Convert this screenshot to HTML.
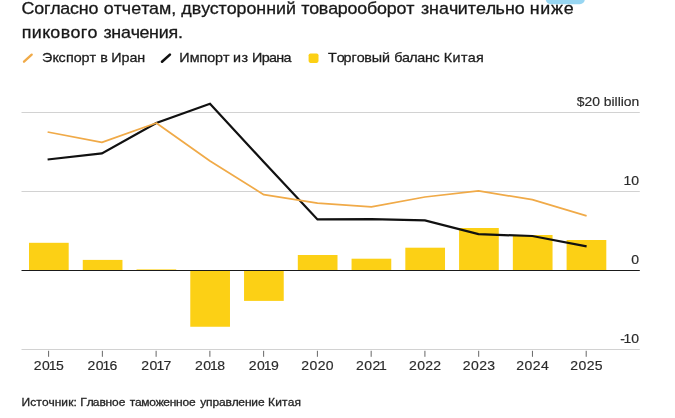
<!DOCTYPE html>
<html lang="ru">
<head>
<meta charset="utf-8">
<title>Chart</title>
<style>
html,body{margin:0;padding:0;background:#fff;}
body{width:675px;height:418px;position:relative;overflow:hidden;}
svg{position:absolute;left:0;top:0;display:block;}
svg text{font-family:"Liberation Sans",Arial,sans-serif;}
</style>
</head>
<body>
<svg width="675" height="418" viewBox="0 0 675 418">
  <rect x="545.8" y="-12" width="39" height="16.3" rx="5" fill="#98d6f2"/>
  <!-- title -->
  <text transform="scale(1.05,1)" x="20.54 32.65 41.93 47.97 57.35 66.63 74.97 84.19 93.64 98.71 108.33 115.9 124.93 134.55 141.93 151.36 163.21 167.94 172.67 182.6 191.65 199.79 208.11 215.92 225.19 234.66 244.13 253.54 262.94 272.45 281.95 286.97 294.59 303.69 312.56 321.65 330.94 340.23 349.52 359.09 368.38 377.67 386.96 394.37 400.88 408.69 418.09 427.56 436.05 445.56 453.36 462.64 472.01 480.88 490.28 499.74 504.46 514.59 524.83 536.95" y="13.9" font-size="17" fill="#181818" stroke="#181818" stroke-width="0.3">Согласно отчетам, двусторонний товарооборот значительно ниже</text>
  <text transform="scale(1.05,1)" x="20.84 30.36 40.17 47.92 57.88 67.23 76.81 83.32 92.4 98.5 106.08 115.26 124.5 132.78 142.02 151.2 160.48 169.48" y="38.0" font-size="17" fill="#181818" stroke="#181818" stroke-width="0.3">пикового значения.</text>
  <!-- legend -->
  <line x1="24" y1="61.7" x2="31.7" y2="54.6" stroke="#f0aa48" stroke-width="2.3" stroke-linecap="round"/>
  <line x1="162" y1="61.7" x2="169.9" y2="54.6" stroke="#111" stroke-width="2.6" stroke-linecap="round"/>
  <rect x="308.6" y="53.5" width="9.9" height="9.4" rx="1.8" fill="#fcd015"/>
  <text transform="scale(1.07,1)" x="39.37 48.97 54.79 61.61 68.83 76.25 83.66 89.5 93.66 100.78 104.09 113.61 120.94 128.28" y="61.6" font-size="13.4" fill="#1c1c1c" stroke="#1c1c1c" stroke-width="0.28">Экспорт в Иран</text>
  <text transform="scale(1.07,1)" x="167.64 177.23 186.4 193.61 201.02 208.43 214.27 217.85 225.75 231.89 235.59 244.61 251.45 258.29 265.08" y="61.6" font-size="13.4" fill="#1c1c1c" stroke="#1c1c1c" stroke-width="0.28">Импорт из Ирана</text>
  <text transform="scale(1.07,1)" x="306.52 314.67 321.05 328.47 333.32 340.45 347.53 357.13 364.62 368.44 375.78 382.59 390.07 397.19 404.26 410.96 414.84 422.96 430.76 437.2 444.82" y="61.6" font-size="13.4" fill="#1c1c1c" stroke="#1c1c1c" stroke-width="0.28">Торговый баланс Китая</text>
  <!-- gridlines -->
  <g stroke="#d2d2d2" stroke-width="1">
    <line x1="21.5" y1="112.5" x2="639.8" y2="112.5"/>
    <line x1="21.5" y1="191.5" x2="639.8" y2="191.5"/>
    <line x1="21.5" y1="349.5" x2="639.8" y2="349.5"/>
  </g>
  <!-- bars -->
  <g fill="#fcd015">
    <rect x="29.0" y="242.8" width="39.7" height="27.4"/>
    <rect x="82.76" y="259.9" width="39.7" height="10.3"/>
    <rect x="136.52" y="269.4" width="39.7" height="0.8"/>
    <rect x="190.28" y="270.2" width="39.7" height="56.55"/>
    <rect x="244.04" y="270.2" width="39.7" height="30.7"/>
    <rect x="297.8" y="255" width="39.7" height="15.2"/>
    <rect x="351.56" y="258.7" width="39.7" height="11.5"/>
    <rect x="405.32" y="247.7" width="39.7" height="22.5"/>
    <rect x="459.08" y="228" width="39.7" height="42.2"/>
    <rect x="512.84" y="235" width="39.7" height="35.2"/>
    <rect x="566.6" y="240" width="39.7" height="30.2"/>
  </g>
  <line x1="21.5" y1="270.5" x2="639.8" y2="270.5" stroke="#1a1a1a" stroke-width="1.0"/>
  <g stroke="#666" stroke-width="1">
    <line x1="48.6" y1="350.8" x2="48.6" y2="356.8"/>
    <line x1="102.36" y1="350.8" x2="102.36" y2="356.8"/>
    <line x1="156.12" y1="350.8" x2="156.12" y2="356.8"/>
    <line x1="209.88" y1="350.8" x2="209.88" y2="356.8"/>
    <line x1="263.64" y1="350.8" x2="263.64" y2="356.8"/>
    <line x1="317.4" y1="350.8" x2="317.4" y2="356.8"/>
    <line x1="371.16" y1="350.8" x2="371.16" y2="356.8"/>
    <line x1="424.92" y1="350.8" x2="424.92" y2="356.8"/>
    <line x1="478.68" y1="350.8" x2="478.68" y2="356.8"/>
    <line x1="532.44" y1="350.8" x2="532.44" y2="356.8"/>
    <line x1="586.2" y1="350.8" x2="586.2" y2="356.8"/>
  </g>
  <!-- series -->
  <polyline fill="none" stroke="#111" stroke-width="2.25" stroke-linejoin="miter" stroke-linecap="butt" points="47.6,159.5 101.9,153.4 156.3,123 210.0,103.8 263.8,162 317.5,219.4 371.4,219.1 424.9,220.4 478.5,234.2 532.3,236 586.6,246.3"/>
  <polyline fill="none" stroke="#f0aa48" stroke-width="1.75" stroke-linejoin="round" stroke-linecap="butt" points="47.6,132 101.9,142.4 156.3,123 210.0,161 263.8,194.7 317.5,203.2 371.4,206.8 424.9,197 478.5,190.9 532.3,199.7 586.6,215.8"/>
  <!-- x axis labels -->
  <g font-size="12.2" fill="#2a2a2a" stroke="#2a2a2a" stroke-width="0.15">
    <text transform="scale(1.15,1)" x="29.4 36.53 42.46 48.61" y="370.0">2015</text>
    <text transform="scale(1.15,1)" x="76.06 83.19 89.12 95.33" y="370.0">2016</text>
    <text transform="scale(1.15,1)" x="122.94 130.07 136 142.11" y="370.0">2017</text>
    <text transform="scale(1.15,1)" x="169.55 176.68 182.62 188.83" y="370.0">2018</text>
    <text transform="scale(1.15,1)" x="216.3 223.43 229.37 235.61" y="370.0">2019</text>
    <text transform="scale(1.15,1)" x="261.96 269.09 276.22 283.35" y="370.0">2020</text>
    <text transform="scale(1.15,1)" x="309.62 316.75 323.88 329.64" y="370.0">2021</text>
    <text transform="scale(1.15,1)" x="355.63 362.76 369.89 376.85" y="370.0">2022</text>
    <text transform="scale(1.15,1)" x="402.38 409.51 416.64 423.63" y="370.0">2023</text>
    <text transform="scale(1.15,1)" x="448.95 456.08 463.21 470.38" y="370.0">2024</text>
    <text transform="scale(1.15,1)" x="495.88 503.01 510.14 517.09" y="370.0">2025</text>
  </g>
  <!-- y axis labels -->
  <g font-size="12.2" fill="#2a2a2a" stroke="#2a2a2a" stroke-width="0.15">
    <text x="576.7" y="105.7" textLength="62.6" lengthAdjust="spacingAndGlyphs">$20 billion</text>
    <text transform="scale(1.15,1)" x="542.24 548.83" y="184.7">10</text>
    <text transform="scale(1.15,1)" x="548.83" y="263.7">0</text>
    <text transform="scale(1.15,1)" x="539.26 542.24 548.83" y="342.6">-10</text>
  </g>
  <!-- source -->
  <text transform="scale(1.09,1)" x="19.74 27.74 33.33 38.46 44.55 50.13 56.3 62.54 67.44 70.5 73.69 79.52 85.19 91.19 96.9 102.85 108.85 114.96 118.93 123.76 129.54 136.89 142.79 149.81 155.71 161.58 167.44 173.34 179.46 183.67 189.05 194.89 200.89 206.89 212.61 218.66 224.66 230.62 236.64 242.76 245.98 252.53 258.81 263.99 270.12" y="405.6" font-size="11" fill="#262626" stroke="#262626" stroke-width="0.3">Источник: Главное таможенное управление Китая</text>
</svg>
</body>
</html>
